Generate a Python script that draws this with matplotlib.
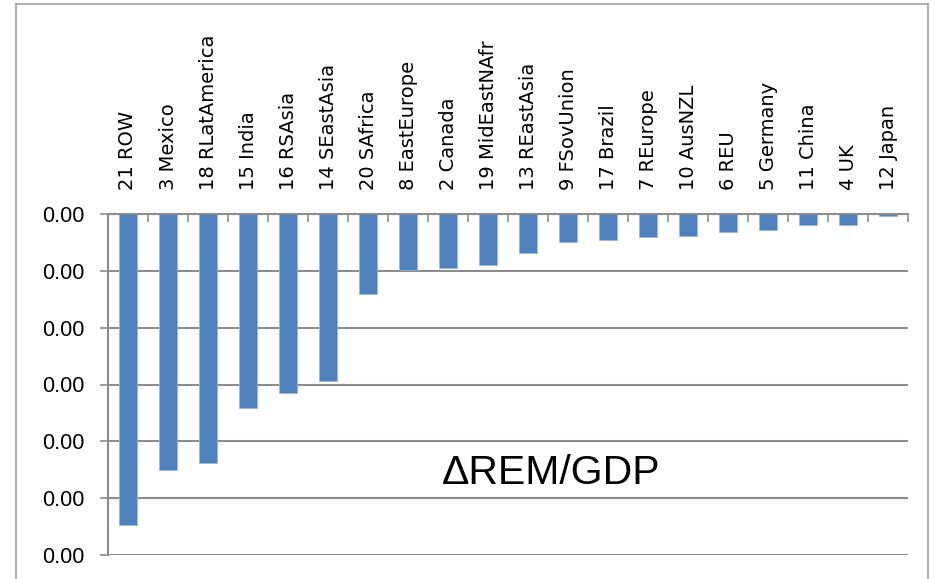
import matplotlib
matplotlib.use("Agg")
import matplotlib.pyplot as plt
from matplotlib.lines import Line2D
from matplotlib.ticker import FuncFormatter, FixedLocator

categories = ["21 ROW", "3 Mexico", "18 RLatAmerica", "15 India", "16 RSAsia",
              "14 SEastAsia", "20 SAfrica", "8 EastEurope", "2 Canada",
              "19 MidEastNAfr", "13 REastAsia", "9 FSovUnion", "17 Brazil",
              "7 REurope", "10 AusNZL", "6 REU", "5 Germany", "11 China",
              "4 UK", "12 Japan"]
values = [-0.000547, -0.000451, -0.000438, -0.000342, -0.000315,
          -0.000294, -0.000140, -0.000098, -0.000095,
          -0.000089, -0.000068, -0.000049, -0.000046,
          -0.000040, -0.000038, -0.000032, -0.000029, -0.000019,
          -0.000019, -0.000004]
yticks = [0.0, -0.0001, -0.0002, -0.0003, -0.0004, -0.0005, -0.0006]
annotation = "\u0394REM/GDP"

W, H = 937, 579
fig = plt.figure(figsize=(W / 100, H / 100), dpi=100)
ax = fig.add_axes([108 / W, 1 - 555 / H, 800 / W, (555 - 214) / H])

grid_c = "#8c8c8c"
x = list(range(len(categories)))
ax.bar(x, values, width=0.45, color="#4F81BD", edgecolor="#9DB5D6", linewidth=0.6, zorder=3)

ax.set_xlim(-0.5, len(categories) - 0.5)
ax.set_ylim(yticks[-1], yticks[0])
ax.set_yticks(yticks)
ax.yaxis.set_major_formatter(FuncFormatter(lambda v, p: "0.00"))
ax.yaxis.grid(True, color=grid_c, linewidth=1.5, zorder=0)
ax.set_axisbelow(True)

for s in ["right", "bottom"]:
    ax.spines[s].set_visible(False)
for s in ["left", "top"]:
    ax.spines[s].set_color(grid_c)
    ax.spines[s].set_linewidth(1.5)
ax.spines["top"].set_zorder(4)

ax.tick_params(axis="y", direction="out", length=6, width=1.2, color=grid_c,
               pad=11, labelsize=15.5, labelcolor="black")
for lab in ax.get_yticklabels():
    lab.set_fontfamily("Liberation Sans")

ax.xaxis.set_ticks_position("top")
ax.set_xticks(x)
ax.set_xticklabels(categories, rotation=90, fontsize=14, family="DejaVu Sans",
                   va="bottom", ha="center")
ax.xaxis.set_minor_locator(FixedLocator([i - 0.5 for i in range(len(categories) + 1)]))
ax.tick_params(axis="x", which="major", length=0, pad=17, top=True, bottom=False,
               labeltop=True, labelbottom=False)
ax.tick_params(axis="x", which="minor", direction="in", length=6, width=1.2,
               color=grid_c, top=True, bottom=False)

fig.text(551 / W, 1 - 473 / H, annotation, fontsize=29.5, family="Liberation Sans",
         ha="center", va="center")

# outer chart border
bc = "#a0a0a0"
fig.add_artist(Line2D([16 / W, 16 / W], [0, 1 - 4 / H], color=bc, lw=1.2, transform=fig.transFigure))
fig.add_artist(Line2D([16 / W, 928 / W], [1 - 4 / H, 1 - 4 / H], color=bc, lw=1.2, transform=fig.transFigure))
fig.add_artist(Line2D([928 / W, 928 / W], [0, 1 - 4 / H], color=bc, lw=1.2, transform=fig.transFigure))

fig.savefig("out.png", dpi=100)
